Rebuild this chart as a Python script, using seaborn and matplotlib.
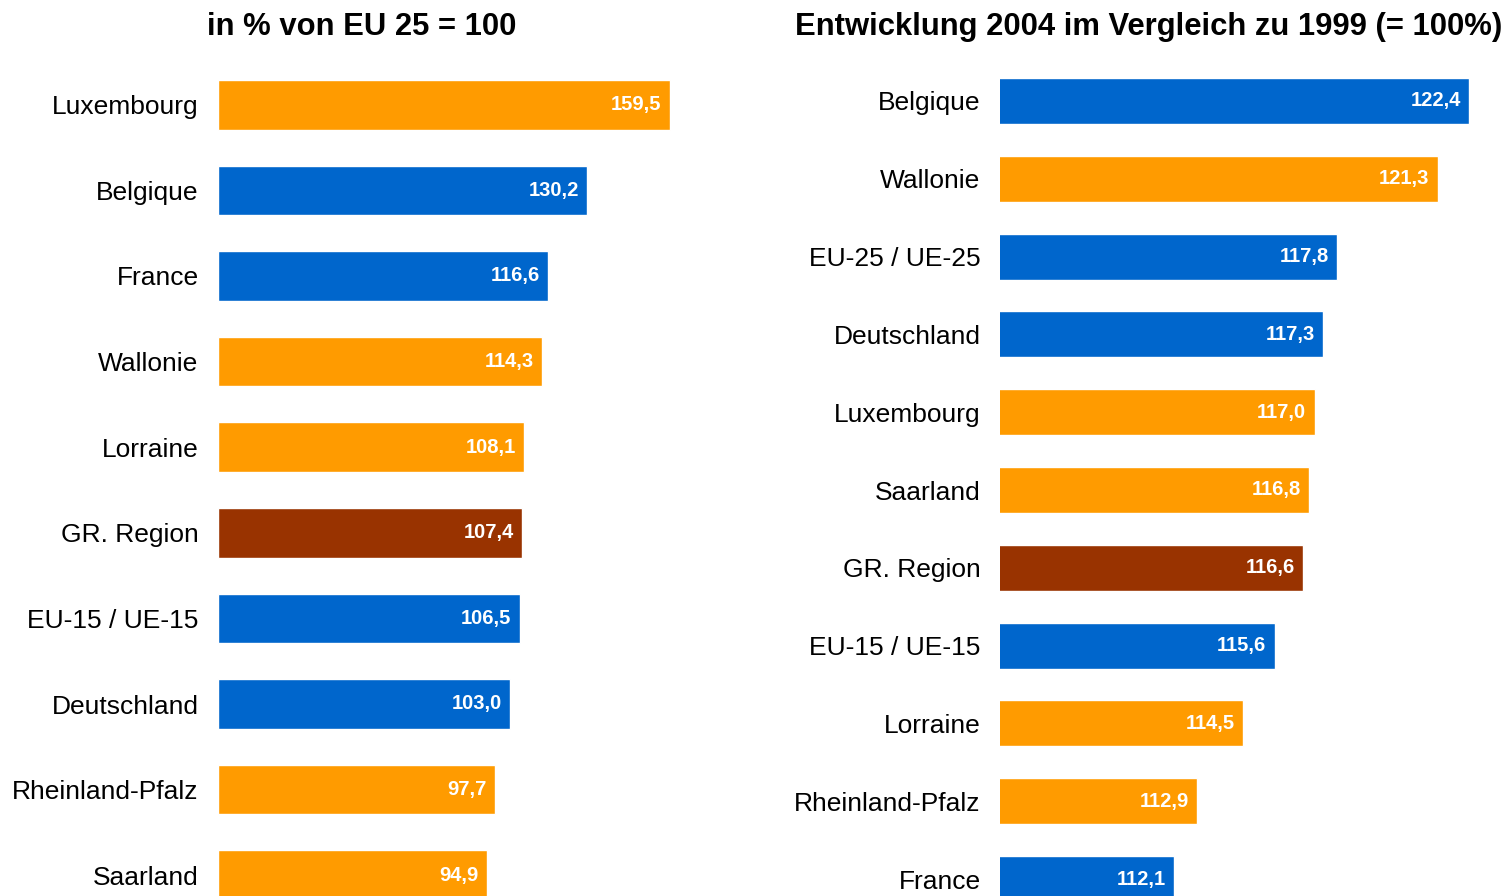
import pandas as pd
import seaborn as sns
from matplotlib import pyplot as plt

# left panel: in % von EU 25 = 100
left_regions = ['Luxembourg', 'Belgique', 'France', 'Wallonie', 'Lorraine', 'GR. Region',
                'EU-15 / UE-15', 'Deutschland', 'Rheinland-Pfalz', 'Saarland']
left_values = [159.5, 130.2, 116.6, 114.3, 108.1, 107.4, 106.5, 103.0, 97.7, 94.9]

# right panel: Entwicklung 2004 im Vergleich zu 1999 (= 100%)
right_regions = ['Belgique', 'Wallonie', 'EU-25 / UE-25', 'Deutschland', 'Luxembourg', 'Saarland',
                 'GR. Region', 'EU-15 / UE-15', 'Lorraine', 'Rheinland-Pfalz', 'France']
right_values = [122.4, 121.3, 117.8, 117.3, 117.0, 116.8, 116.6, 115.6, 114.5, 112.9, 112.1]

kinds = {
    'Luxembourg': 'region', 'Wallonie': 'region', 'Lorraine': 'region',
    'Rheinland-Pfalz': 'region', 'Saarland': 'region',
    'Belgique': 'state', 'France': 'state', 'Deutschland': 'state',
    'EU-15 / UE-15': 'state', 'EU-25 / UE-25': 'state',
    'GR. Region': 'gr',
}
palette = {'region': '#FF9B00', 'state': '#0066CC', 'gr': '#993300'}

sns.set_style('white')
plt.rcParams['font.family'] = ['Liberation Sans', 'DejaVu Sans']
plt.rcParams['text.color'] = 'black'
plt.rcParams['ytick.color'] = 'black'
plt.rcParams['ytick.labelcolor'] = 'black'

W, H = 1504, 896
fig = plt.figure(figsize=(W / 100, H / 100), dpi=100)

# axes placed in pixel coordinates (bottom runs past the figure edge, like the original)
top_px, bottom_px = 62, 918


def make_axes(x0, x1):
    return fig.add_axes([x0 / W, (H - bottom_px) / H, (x1 - x0) / W, (bottom_px - top_px) / H])


def draw_panel(ax, regions, values, xlim, width):
    df = pd.DataFrame({'region': regions, 'value': values})
    df['kind'] = df['region'].map(kinds)
    sns.barplot(data=df, x='value', y='region', hue='kind', palette=palette, orient='h',
                dodge=False, legend=False, width=width, saturation=1, ax=ax)
    ax.set_xlim(*xlim)
    ax.set_ylim(len(regions) - 0.5, -0.5)
    ax.set_xlabel('')
    ax.set_ylabel('')
    ax.set_xticks([])
    ax.tick_params(axis='y', length=0, pad=14, labelsize=19, labelcolor='black')
    sns.despine(ax=ax, left=True, bottom=True)
    for i, v in enumerate(values):
        ax.annotate(f'{v:.1f}'.replace('.', ','), xy=(v, i), xytext=(-6, 0),
                    textcoords='offset points', ha='right', va='center',
                    color='white', fontsize=14.5, fontweight='bold')


ax1 = make_axes(218, 760)
draw_panel(ax1, left_regions, left_values, (0, 542 / 2.834), 0.58)

ax2 = make_axes(1000, 1504)
draw_panel(ax2, right_regions, right_values, (106, 106 + 504 / 28.6), 0.59)

fig.text(362 / W, 1 - 27 / H, 'in % von EU 25 = 100', ha='center', va='center',
         fontsize=22.3, fontweight='bold', color='black')
fig.text(1149 / W, 1 - 27 / H, 'Entwicklung 2004 im Vergleich zu 1999 (= 100%)', ha='center',
         va='center', fontsize=22.3, fontweight='bold', color='black')

plt.savefig('out.png', dpi=100)
plt.close()
